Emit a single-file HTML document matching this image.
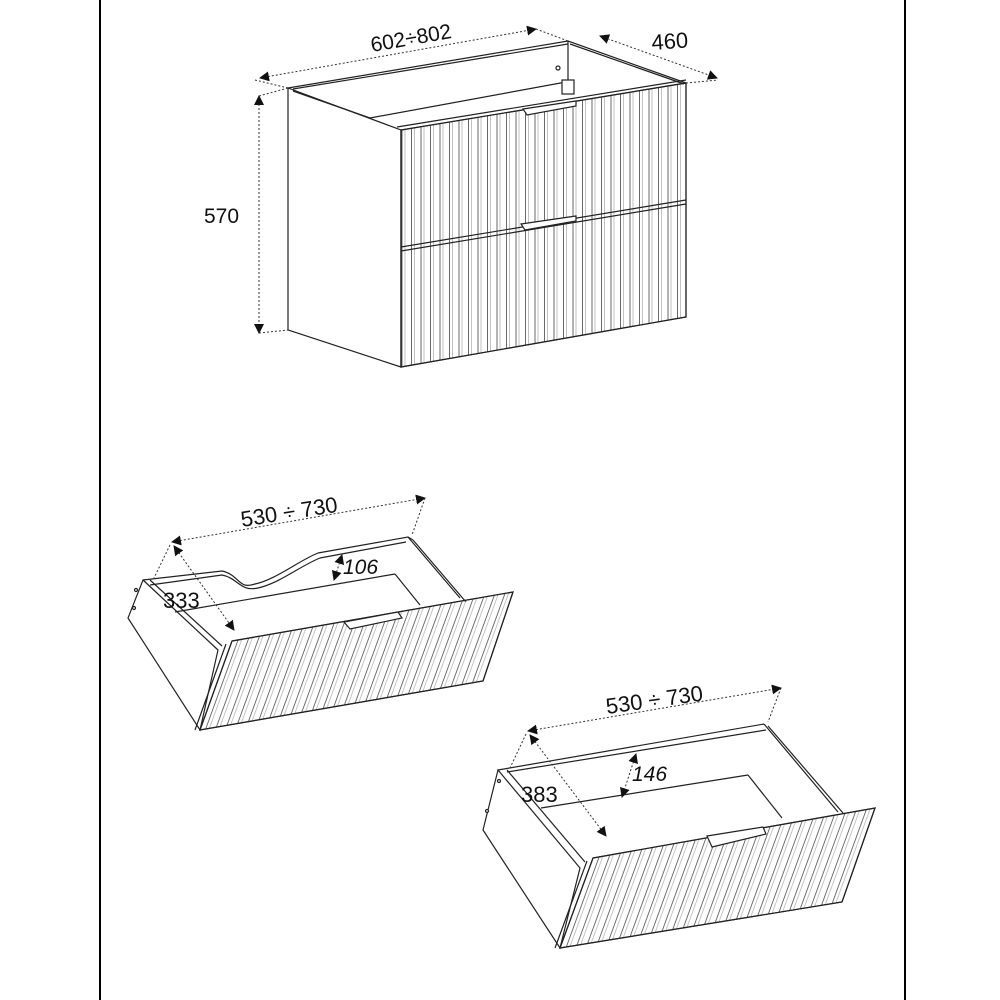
<!DOCTYPE html>
<html><head><meta charset="utf-8"><style>
html,body{margin:0;padding:0;background:#fff}
svg{display:block}
text{font-family:"Liberation Sans","DejaVu Sans",sans-serif;fill:#111}
</style></head><body>
<svg width="1000" height="1000" viewBox="0 0 1000 1000" xmlns="http://www.w3.org/2000/svg">
<defs>
<pattern id="vflute" width="9.5" height="10" patternUnits="userSpaceOnUse" x="401">
<line x1="1" y1="0" x2="1" y2="10" stroke="#444" stroke-width="0.8"/>
<line x1="4" y1="0" x2="4" y2="10" stroke="#999" stroke-width="0.6"/>
</pattern>
<pattern id="sflute" width="10" height="10" patternUnits="userSpaceOnUse" patternTransform="skewX(-20)">
<line x1="1" y1="0" x2="1" y2="10" stroke="#444" stroke-width="0.8"/>
<line x1="4.5" y1="0" x2="4.5" y2="10" stroke="#999" stroke-width="0.6"/>
</pattern>
<marker id="ar" viewBox="0 0 10 10" refX="9" refY="5" markerWidth="10" markerHeight="10" orient="auto-start-reverse" markerUnits="userSpaceOnUse">
<path d="M0,0 L10,5 L0,10 z" fill="#111"/>
</marker>
</defs>

<line x1="100" y1="0" x2="100" y2="1000" stroke="#000" stroke-width="2"/>
<line x1="905" y1="0" x2="905" y2="1000" stroke="#000" stroke-width="2"/>

<g stroke="#222" stroke-width="1.2" fill="none">
<polygon points="288,88 401,130 401,367 288,330" fill="#fff"/>
<polyline points="288,88 568,41 686,83"/>
<line x1="293" y1="89" x2="568" y2="44"/>
<line x1="293" y1="91" x2="370" y2="118"/>
<line x1="370" y1="118" x2="566" y2="82"/>
<line x1="568" y1="41" x2="568" y2="82"/>
<line x1="570" y1="44" x2="684" y2="84"/>
<polygon points="401,130 686,83 686,317 401,367" fill="url(#vflute)"/>
<polygon points="401,130 686,83 686,317 401,367"/>
<line x1="397" y1="127" x2="686" y2="80"/>
<line x1="401" y1="247" x2="686" y2="200"/>
<line x1="401" y1="251" x2="686" y2="204"/>
<polygon points="523,109 576,101 576,106 527,115" fill="#fff"/>
<polygon points="521,224 576,216 576,221 525,230" fill="#fff"/>
<rect x="562" y="80" width="12" height="14" fill="#fff"/>
<circle cx="558" cy="68" r="2"/>
</g>

<g stroke="#333" stroke-width="1" stroke-dasharray="2,2" fill="none">
<line x1="260" y1="78" x2="536" y2="29" marker-start="url(#ar)" marker-end="url(#ar)"/>
<line x1="255" y1="80" x2="288" y2="88"/>
<line x1="536" y1="29" x2="568" y2="41"/>
<line x1="600" y1="36" x2="717" y2="78" marker-start="url(#ar)" marker-end="url(#ar)"/>
<line x1="686" y1="83" x2="718" y2="80"/>
<line x1="259" y1="96" x2="259" y2="333" marker-start="url(#ar)" marker-end="url(#ar)"/>
<line x1="259" y1="96" x2="288" y2="88"/>
<line x1="259" y1="333" x2="288" y2="330"/>
</g>
<text x="372" y="52" font-size="21" transform="rotate(-10 372 52)">602÷802</text>
<text x="652" y="50" font-size="22" transform="rotate(-4 652 50)">460</text>
<text x="204" y="223" font-size="21">570</text>

<!-- DRAWER 1 -->
<g stroke="#222" stroke-width="1.2" fill="#fff">
<polygon points="143,580 218,650 200,730 128,618"/>
<line x1="150" y1="580" x2="222" y2="646"/>
<path d="M143,580 L222,571 C240,575 238,590 255,584 C275,580 300,560 318,553 L408,537 L460,598" fill="none"/>
<path d="M150,585 L222,575 C238,578 240,592 258,588 C280,583 300,566 320,558 L406,542" fill="none"/>
<line x1="408" y1="537" x2="413" y2="540"/>
<line x1="413" y1="540" x2="466" y2="602"/>
<line x1="175" y1="612" x2="395" y2="574"/>
<line x1="395" y1="574" x2="420" y2="605"/>
<polygon points="232,641 513,592 483,681 200,730" fill="url(#sflute)"/>
<polygon points="232,641 513,592 483,681 200,730" fill="none"/>
<line x1="226" y1="644" x2="195" y2="730"/>
<polygon points="344,622 398,612 402,618 350,629"/>
<circle cx="136" cy="590" r="1.5"/><circle cx="134" cy="608" r="1.5"/>
</g>
<g stroke="#333" stroke-width="1" stroke-dasharray="2,2" fill="none">
<line x1="172" y1="542" x2="425" y2="498" marker-start="url(#ar)" marker-end="url(#ar)"/>
<line x1="170" y1="545" x2="154" y2="578"/>
<line x1="425" y1="498" x2="412" y2="535"/>
<line x1="174" y1="546" x2="234" y2="630" marker-start="url(#ar)" marker-end="url(#ar)"/>
<line x1="342" y1="555" x2="334" y2="580" marker-start="url(#ar)" marker-end="url(#ar)"/>
</g>
<text x="242" y="527" font-size="22" transform="rotate(-9 242 527)">530 ÷ 730</text>
<text x="343" y="574" font-size="21" font-style="italic">106</text>
<text x="163" y="608" font-size="22">333</text>

<!-- DRAWER 2 -->
<g stroke="#222" stroke-width="1.2" fill="#fff">
<polygon points="498,770 580,868 560,948 483,830"/>
<line x1="507" y1="770" x2="585" y2="862"/>
<line x1="498" y1="770" x2="764" y2="724"/>
<line x1="507" y1="772" x2="766" y2="730"/>
<line x1="764" y1="724" x2="838" y2="812"/>
<line x1="768" y1="726" x2="843" y2="813"/>
<line x1="541" y1="808" x2="748" y2="775"/>
<line x1="748" y1="775" x2="782" y2="818"/>
<polygon points="593,858 875,808 842,902 560,948" fill="url(#sflute)"/>
<polygon points="593,858 875,808 842,902 560,948" fill="none"/>
<line x1="587" y1="861" x2="555" y2="948"/>
<polygon points="707,836 763,827 766,834 712,847"/>
<circle cx="499" cy="781" r="1.5"/><circle cx="487" cy="811" r="1.5"/>
</g>
<g stroke="#333" stroke-width="1" stroke-dasharray="2,2" fill="none">
<line x1="528" y1="731" x2="781" y2="688" marker-start="url(#ar)" marker-end="url(#ar)"/>
<line x1="526" y1="734" x2="510" y2="768"/>
<line x1="781" y1="688" x2="768" y2="722"/>
<line x1="530" y1="735" x2="606" y2="836" marker-start="url(#ar)" marker-end="url(#ar)"/>
<line x1="636" y1="754" x2="622" y2="797" marker-start="url(#ar)" marker-end="url(#ar)"/>
</g>
<text x="607" y="714" font-size="22" transform="rotate(-8 607 714)">530 ÷ 730</text>
<text x="632" y="781" font-size="21" font-style="italic">146</text>
<text x="521" y="802" font-size="22">383</text>
</svg>
</body></html>
